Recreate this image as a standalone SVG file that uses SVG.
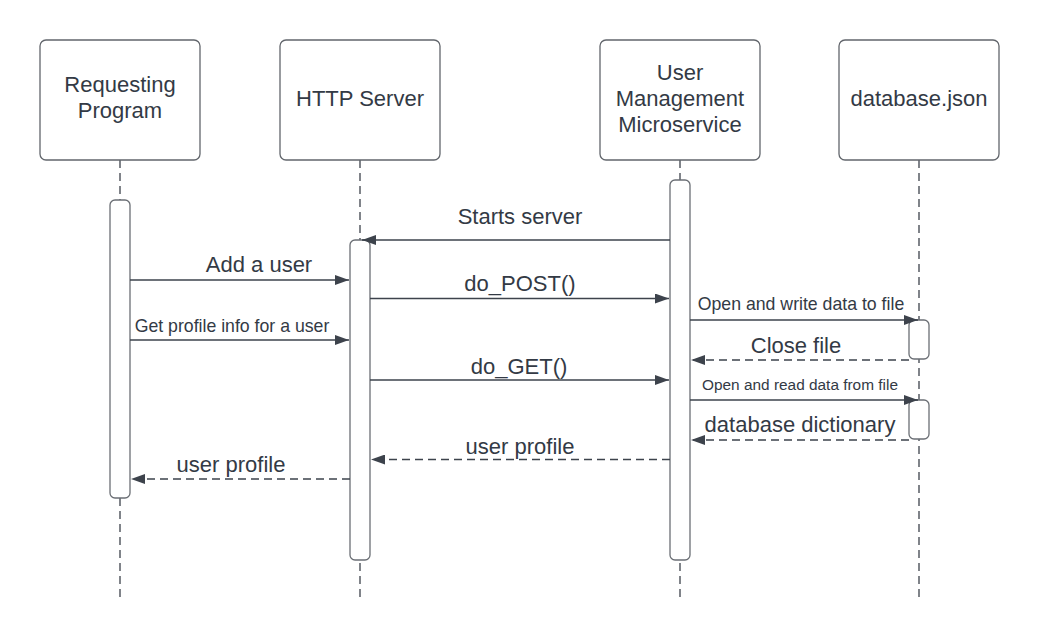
<svg xmlns="http://www.w3.org/2000/svg" width="1039" height="640" viewBox="0 0 1039 640">
<defs>
<style>
.box{fill:#ffffff;stroke:#62666c;stroke-width:1.3}
.bar{fill:#ffffff;stroke:#6b6f75;stroke-width:1.3}
.life{fill:none;stroke:#3d434c;stroke-width:1.3;stroke-dasharray:8 5}
.msg{fill:none;stroke:#3d434c;stroke-width:1.3}
.ret{fill:none;stroke:#3d434c;stroke-width:1.3;stroke-dasharray:8 5}
text{font-family:"Liberation Sans",Arial,sans-serif;fill:#333a45;text-anchor:middle}
.t22{font-size:22px}
.t18{font-size:17.7px}
.t15{font-size:15.4px}
</style>
<marker id="ah" viewBox="0 0 14 10" refX="14" refY="5" markerWidth="14" markerHeight="10" markerUnits="userSpaceOnUse" orient="auto">
<path d="M0,0 L14,5 L0,10 Z" fill="#3d434c"/>
</marker>
</defs>
<rect width="1039" height="640" fill="#ffffff"/>
<g id="lifelines">
<line class="life" x1="120" y1="160" x2="120" y2="600"/>
<line class="life" x1="360" y1="160" x2="360" y2="600"/>
<line class="life" x1="680" y1="160" x2="680" y2="600"/>
<line class="life" x1="919" y1="160" x2="919" y2="600"/>
</g>
<g id="node-requesting">
<rect class="box" x="40" y="40" width="160" height="120" rx="6"/>
<text class="t22" x="120" y="92">Requesting</text>
<text class="t22" x="120" y="118">Program</text>
<rect class="bar" x="110" y="200" width="20" height="298" rx="5"/>
</g>
<g id="node-http">
<rect class="box" x="280" y="40" width="160" height="120" rx="6"/>
<text class="t22" x="360" y="106">HTTP Server</text>
<rect class="bar" x="350" y="240" width="20" height="320" rx="5"/>
</g>
<g id="node-ums">
<rect class="box" x="600" y="40" width="160" height="120" rx="6"/>
<text class="t22" x="680" y="80">User</text>
<text class="t22" x="680" y="106">Management</text>
<text class="t22" x="680" y="132">Microservice</text>
<rect class="bar" x="670" y="180" width="20" height="380" rx="5"/>
</g>
<g id="node-db">
<rect class="box" x="839" y="40" width="160" height="120" rx="6"/>
<text class="t22" x="919" y="106">database.json</text>
<rect class="bar" x="909" y="320" width="20" height="39" rx="5"/>
<rect class="bar" x="909" y="400" width="20" height="39" rx="5"/>
</g>
<g id="connectors">
<line class="msg" x1="670" y1="240" x2="362" y2="240" marker-end="url(#ah)"/>
<text class="t22" x="520" y="224">Starts server</text>
<line class="msg" x1="130" y1="280" x2="349" y2="280" marker-end="url(#ah)"/>
<text class="t22" x="259" y="272">Add a user</text>
<line class="msg" x1="370" y1="298.5" x2="669" y2="298.5" marker-end="url(#ah)"/>
<text class="t22" x="520" y="291">do_POST()</text>
<line class="msg" x1="690" y1="320" x2="918" y2="320" marker-end="url(#ah)"/>
<text class="t18" x="801" y="310">Open and write data to file</text>
<line class="msg" x1="130" y1="340" x2="349" y2="340" marker-end="url(#ah)"/>
<text class="t18" x="232" y="332">Get profile info for a user</text>
<line class="ret" x1="909" y1="360" x2="691" y2="360" marker-end="url(#ah)"/>
<text class="t22" x="796" y="352.5">Close file</text>
<line class="msg" x1="370" y1="380" x2="669" y2="380" marker-end="url(#ah)"/>
<text class="t22" x="519" y="373.5">do_GET()</text>
<line class="msg" x1="690" y1="400" x2="918" y2="400" marker-end="url(#ah)"/>
<text class="t15" x="800" y="390">Open and read data from file</text>
<line class="ret" x1="909" y1="440" x2="691" y2="440" marker-end="url(#ah)"/>
<text class="t22" x="800" y="432">database dictionary</text>
<line class="ret" x1="670" y1="459.5" x2="371" y2="459.5" marker-end="url(#ah)"/>
<text class="t22" x="520" y="454">user profile</text>
<line class="ret" x1="350" y1="479" x2="131" y2="479" marker-end="url(#ah)"/>
<text class="t22" x="231" y="472">user profile</text>
</g>
</svg>
